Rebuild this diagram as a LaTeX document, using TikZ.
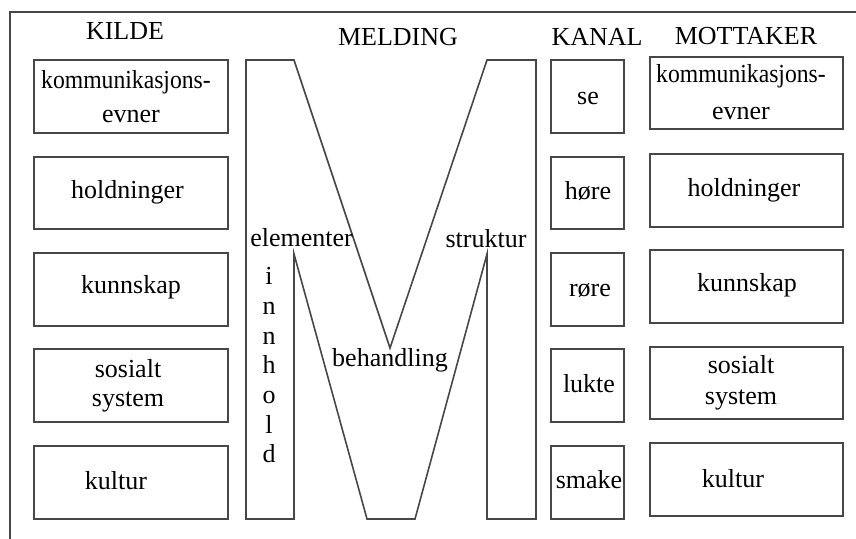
\documentclass[tikz,border=0pt]{standalone}
\usepackage{fontspec}
\setmainfont{Liberation Serif}
\begin{document}
\begin{tikzpicture}[x=0.5pt,y=-0.5pt,
  line/.style={draw=black!72,line width=0.8pt},
  cell/.style={line,inner sep=0pt,outer sep=0pt},
  txt/.style={inner sep=0pt,anchor=base,font=\fontsize{13}{15}\selectfont},
  head/.style={txt},
]
\useasboundingbox (0,0) rectangle (856,539);

% outer frame (only left and top edges are in view)
\draw[line] (10,539) -- (10,12) -- (856,12);

% column headings
\node[head] (hK) at (125,40) {KILDE};
\node[head] (hM) at (398,46) {MELDING};
\node[head] (hC) at (597,46) {KANAL};
\node[head] (hR) at (746,45) {MOTTAKER};

% source column
\node[cell,minimum width=97pt,minimum height=36.5pt] (k1) at (131,96.5) {};
\node[cell,minimum width=97pt,minimum height=36pt] (k2) at (131,193) {};
\node[cell,minimum width=97pt,minimum height=36.5pt] (k3) at (131,289.5) {};
\node[cell,minimum width=97pt,minimum height=36.5pt] (k4) at (131,385.5) {};
\node[cell,minimum width=97pt,minimum height=36.5pt] (k5) at (131,482.5) {};
\node[txt] (k1a) at (126,89) {\scalebox{0.91}[1]{kommunikasjons-}};
\node[txt] (k1b) at (131,123) {evner};
\node[txt] (k2a) at (127.5,199) {holdninger};
\node[txt] (k3a) at (131,294) {kunnskap};
\node[txt] (k4a) at (128,378) {sosialt};
\node[txt] (k4b) at (128,407) {system};
\node[txt] (k5a) at (116,489) {kultur};

% the message, drawn as a large letter M
\draw[line,line join=miter]
  (246,60) coordinate (m1) -- (294,60) -- (390,348) coordinate (mv) -- (487,60)
  -- (536,60) -- (536,519) -- (487,519) -- (487,254) coordinate (pr)
  -- (415,519) -- (367,519) -- (294,254) coordinate (pl) -- (294,519)
  -- (246,519) -- cycle;
\node[txt] (elem) at (301.5,247) {elementer};
\node[txt] (strk) at (486,248) {struktur};
\node[txt] (beh) at (390,367) {behandling};
\foreach \c [count=\i] in {i,n,n,h,o,l,d}
  \node[txt] (inn\i) at (269,{285+29.6*(\i-1)}) {\c};

% channel column
\node[cell,minimum width=36.5pt,minimum height=36.5pt] (c1) at (587.5,96.5) {};
\node[cell,minimum width=36.5pt,minimum height=36pt] (c2) at (587.5,193) {};
\node[cell,minimum width=36.5pt,minimum height=36.5pt] (c3) at (587.5,289.5) {};
\node[cell,minimum width=36.5pt,minimum height=36.5pt] (c4) at (587.5,385.5) {};
\node[cell,minimum width=36.5pt,minimum height=36.5pt] (c5) at (587.5,482.5) {};
\node[txt] (c1a) at (588,105) {se};
\node[txt] (c2a) at (588,200) {høre};
\node[txt] (c3a) at (590,297) {røre};
\node[txt] (c4a) at (589,393) {lukte};
\node[txt] (c5a) at (589,488) {smake};

% receiver column
\node[cell,minimum width=96.5pt,minimum height=36pt] (r1) at (746.5,93) {};
\node[cell,minimum width=96.5pt,minimum height=36.5pt] (r2) at (746.5,190.5) {};
\node[cell,minimum width=96.5pt,minimum height=36.5pt] (r3) at (746.5,286.5) {};
\node[cell,minimum width=96.5pt,minimum height=36pt] (r4) at (746.5,383) {};
\node[cell,minimum width=96.5pt,minimum height=36.5pt] (r5) at (746.5,479.5) {};
\node[txt] (r1a) at (741,83) {\scalebox{0.91}[1]{kommunikasjons-}};
\node[txt] (r1b) at (741,120) {evner};
\node[txt] (r2a) at (744,197) {holdninger};
\node[txt] (r3a) at (747,292) {kunnskap};
\node[txt] (r4a) at (741,373) {sosialt};
\node[txt] (r4b) at (741,404) {system};
\node[txt] (r5a) at (733,487) {kultur};
\end{tikzpicture}
\end{document}
